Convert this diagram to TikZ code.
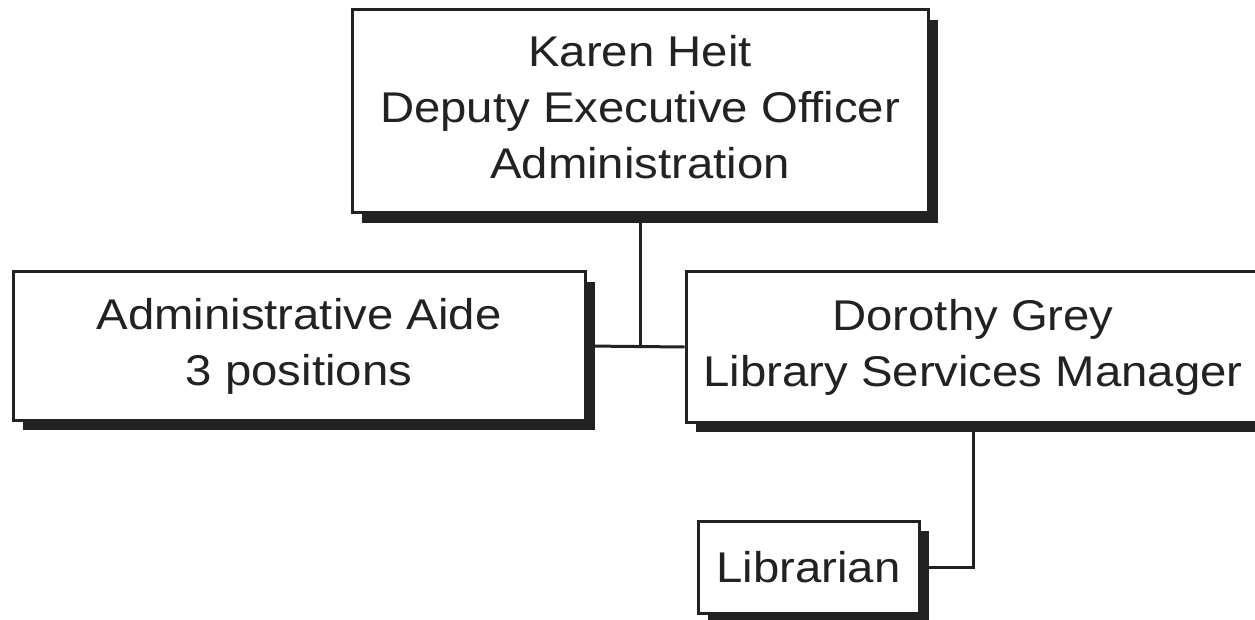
\documentclass[tikz,border=0pt]{standalone}
\usepackage{fontspec}
\setmainfont{Liberation Sans}[FakeStretch=1.1]
\usetikzlibrary{shadows,backgrounds}
\definecolor{ink}{HTML}{222222}
\tikzset{
  box/.style={draw=ink, line width=3pt, fill=white, inner sep=0pt, align=center,
    text=ink, font=\fontsize{43}{56}\selectfont,
    drop shadow={shadow xshift=10pt, shadow yshift=-10pt, fill=ink, opacity=1}},
  link/.style={draw=ink, line width=3pt}
}
\begin{document}
\begin{tikzpicture}[x=1pt,y=-1pt]
\useasboundingbox (0,0) rectangle (1255,620);
\node[box, minimum width=576pt, minimum height=203pt] (top) at (640,111.5)
  {\raisebox{4pt}{\begin{tabular}{@{}c@{}}Karen Heit\\Deputy Executive Officer\\Administration\end{tabular}}};
\node[box, minimum width=572pt, minimum height=148pt] (aide) at (299,346)
  {Administrative Aide\\3 positions};
\node[box, minimum width=574pt, minimum height=150pt] (dor) at (973,347)
  {Dorothy Grey\\Library Services Manager};
\node[box, minimum width=221pt, minimum height=92pt] (lib) at (808.5,567)
  {Librarian};
\coordinate (j) at (640,346);
\begin{scope}[on background layer]
\draw[link] (top.south) -- (j);
\draw[link] (aide.east) -- (dor.west);
\draw[link] (dor.south) |- (lib.east);
\end{scope}
\end{tikzpicture}
\end{document}
